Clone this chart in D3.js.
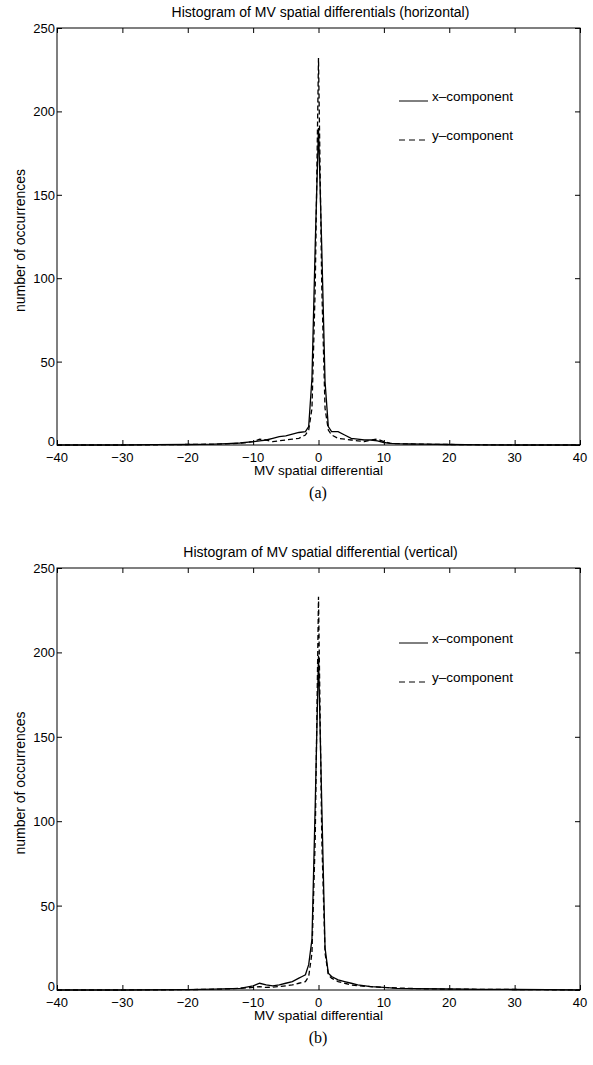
<!DOCTYPE html>
<html>
<head>
<meta charset="utf-8">
<script src="https://cdn.jsdelivr.net/npm/d3@7"></script>
<style>
  body { margin: 0; background: #fff; }
  text { font-family: "Liberation Sans", Arial, sans-serif; fill: #000; }
  .caption { font-family: "Liberation Serif", "Times New Roman", serif; }
</style>
</head>
<body>
<div id="chart"></div>
<script>
// shared axis ticks
var xTicks = [-40, -30, -20, -10, 0, 10, 20, 30, 40];
var yTicks = [0, 50, 100, 150, 200, 250];

// (a) horizontal differentials
var xA_x = [-40, -30, -25, -20, -16, -14, -12, -10, -9, -8, -7, -6, -5, -4, -3, -2, -1.5, -1, -0.5, 0,
            0.5, 1, 1.5, 2, 3, 4, 5, 6, 7, 8, 9, 10, 11, 12, 14, 16, 20, 25, 30, 40];
var xA_y = [0, 0, 0.2, 0.3, 0.5, 0.8, 1.2, 2, 2.5, 3, 4, 5, 5.5, 6.5, 7.5, 8, 11, 40, 120, 190,
            118, 38, 11, 8, 8, 6, 4, 3.5, 3, 3, 2.5, 1.5, 1, 0.8, 0.6, 0.5, 0.3, 0.1, 0, 0];
var yA_x = [-40, -30, -20, -16, -12, -11, -10, -9, -8, -7, -6, -5, -4, -3, -2, -1.5, -1, -0.5, 0,
            0.5, 1, 1.5, 2, 3, 4, 5, 6, 7, 8, 9, 10, 11, 12, 16, 20, 30, 40];
var yA_y = [0, 0, 0.3, 0.5, 1, 1.5, 2, 3.5, 3, 2, 2.5, 3, 3.5, 4, 6, 9, 22, 95, 232,
            95, 22, 9, 6, 4, 3.5, 3, 2.5, 2, 3, 3.5, 2, 1, 0.8, 0.5, 0.3, 0, 0];

// (b) vertical differentials
var xB_x = [-40, -30, -20, -16, -12, -10, -9, -8, -7, -6, -5, -4, -3, -2.5, -2, -1.5, -1, -0.5, 0,
            0.5, 1, 1.5, 2, 3, 4, 5, 6, 8, 10, 12, 15, 20, 25, 30, 35, 40];
var xB_y = [0, 0, 0.2, 0.5, 1, 2.5, 4, 3, 2.5, 3, 4, 5, 7, 8, 9, 15, 30, 110, 198,
            110, 25, 10, 8, 6, 5, 4, 3, 2, 1.5, 1, 0.8, 0.6, 0.4, 0.3, 0.2, 0];
var yB_x = [-40, -30, -20, -15, -12, -10, -9, -8, -6, -5, -4, -3, -2, -1.5, -1, -0.5, 0,
            0.5, 1, 1.5, 2, 3, 4, 5, 6, 8, 10, 15, 20, 25, 30, 40];
var yB_y = [0, 0, 0.2, 0.5, 1, 1.5, 2, 1.5, 2, 2.5, 3, 4, 5, 8, 22, 90, 233,
            90, 22, 9, 7, 5, 4, 3, 2.5, 2, 1.5, 0.8, 0.5, 0.4, 0.3, 0];

var legendNames = ["x\u2013component", "y\u2013component"];

var panels = [
  { title: "Histogram of MV spatial differentials (horizontal)", caption: "(a)",
    top: 28, bottom: 445, legendY: 101,
    series: [{ xs: xA_x, ys: xA_y, dash: null }, { xs: yA_x, ys: yA_y, dash: "5,3" }] },
  { title: "Histogram of MV spatial differential (vertical)", caption: "(b)",
    top: 568, bottom: 990, legendY: 643,
    series: [{ xs: xB_x, ys: xB_y, dash: null }, { xs: yB_x, ys: yB_y, dash: "5,3" }] }
];

var width = 593, height = 1065, left = 57, right = 580;

var svg = d3.select("#chart").append("svg")
    .attr("width", width)
    .attr("height", height);

panels.forEach(function(p) {
  var x = d3.scaleLinear().domain([-40, 40]).range([left, right]);
  var y = d3.scaleLinear().domain([0, 250]).range([p.bottom, p.top]);
  var g = svg.append("g");

  // box
  g.append("rect")
      .attr("x", left).attr("y", p.top)
      .attr("width", right - left).attr("height", p.bottom - p.top)
      .attr("fill", "none").attr("stroke", "#000").attr("stroke-width", 1);

  // inward ticks on all four sides
  var tl = 5;
  g.append("g").attr("transform", "translate(0," + p.bottom + ")")
      .call(d3.axisTop(x).tickValues(xTicks).tickSize(tl).tickFormat(""))
      .call(function(a) { a.select(".domain").remove(); });
  g.append("g").attr("transform", "translate(0," + p.top + ")")
      .call(d3.axisBottom(x).tickValues(xTicks).tickSize(tl).tickFormat(""))
      .call(function(a) { a.select(".domain").remove(); });
  g.append("g").attr("transform", "translate(" + left + ",0)")
      .call(d3.axisRight(y).tickValues(yTicks).tickSize(tl).tickFormat(""))
      .call(function(a) { a.select(".domain").remove(); });
  g.append("g").attr("transform", "translate(" + right + ",0)")
      .call(d3.axisLeft(y).tickValues(yTicks).tickSize(tl).tickFormat(""))
      .call(function(a) { a.select(".domain").remove(); });

  // tick labels
  g.selectAll(".xl").data(xTicks).enter().append("text")
      .attr("x", function(d) { return x(d); })
      .attr("y", p.bottom + 17)
      .attr("text-anchor", "middle")
      .style("font-size", "13px")
      .text(function(d) { return d < 0 ? "\u2212" + (-d) : d; });
  g.selectAll(".yl").data(yTicks).enter().append("text")
      .attr("x", left - 2)
      .attr("y", function(d) { return y(d) + (d === 0 ? 1 : 5); })
      .attr("text-anchor", "end")
      .style("font-size", "13px")
      .text(function(d) { return d; });

  // titles
  g.append("text")
      .attr("x", (left + right) / 2 + 2).attr("y", p.top - 11)
      .attr("text-anchor", "middle").style("font-size", "14px")
      .text(p.title);
  g.append("text")
      .attr("x", (left + right) / 2).attr("y", p.bottom + 30)
      .attr("text-anchor", "middle").style("font-size", "13.5px")
      .text("MV spatial differential");
  g.append("text")
      .attr("transform", "translate(25," + ((p.top + p.bottom) / 2 + 4) + ") rotate(-90)")
      .attr("text-anchor", "middle").style("font-size", "14px")
      .text("number of occurrences");
  g.append("text").attr("class", "caption")
      .attr("x", 318).attr("y", p.bottom + 53)
      .attr("text-anchor", "middle").style("font-size", "16px")
      .text(p.caption);

  // data lines
  var line = d3.line()
      .x(function(d) { return x(d[0]); })
      .y(function(d) { return y(d[1]); });
  p.series.forEach(function(s) {
    g.append("path")
        .datum(d3.zip(s.xs, s.ys))
        .attr("d", line)
        .attr("fill", "none")
        .attr("stroke", "#000")
        .attr("stroke-width", 1.3)
        .attr("stroke-dasharray", s.dash);
  });

  // legend
  legendNames.forEach(function(name, i) {
    var ly = p.legendY + i * 39;
    g.append("line")
        .attr("x1", 399).attr("x2", 428)
        .attr("y1", ly).attr("y2", ly)
        .attr("stroke", "#000").attr("stroke-width", 1)
        .attr("stroke-dasharray", i ? "6,4" : null);
    g.append("text")
        .attr("x", 432).attr("y", ly)
        .style("font-size", "13.5px")
        .text(name);
  });
});
</script>
</body>
</html>
